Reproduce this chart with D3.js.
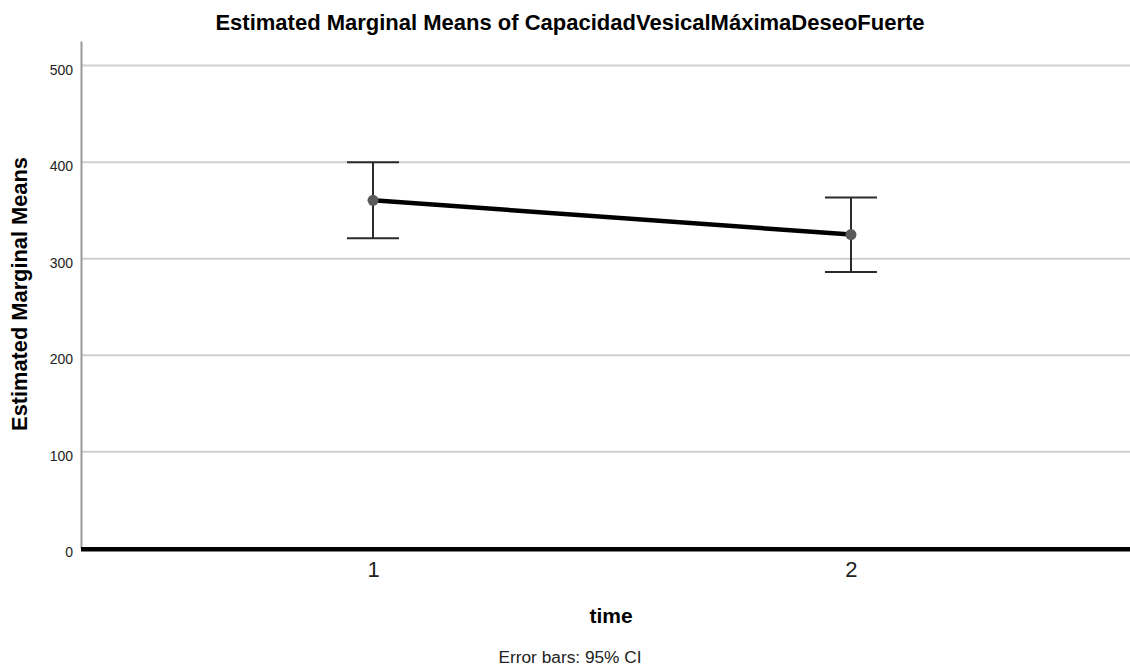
<!DOCTYPE html>
<html>
<head>
<meta charset="utf-8">
<script src="https://cdn.jsdelivr.net/npm/d3@7"></script>
<style>
  html, body { margin: 0; padding: 0; background: #fff; }
  svg { display: block; font-family: "Liberation Sans", Arial, sans-serif; }
</style>
</head>
<body>
<svg id="chart" width="1130" height="666"></svg>
<script>
// Estimated marginal means with 95% confidence intervals per time point
const timePoints = ["1", "2"];
const means = [360.5, 325.0];
const ciLower = [321.2, 286.3];
const ciUpper = [400.0, 363.3];
const yTicks = [0, 100, 200, 300, 400, 500];

const svg = d3.select("#chart");
const W = 1130, H = 666;
const plotLeft = 81, plotTop = 41, plotBottom = 548.3;

const y = d3.scaleLinear().domain([0, 525.5]).range([plotBottom, plotTop]);
const x = d3.scalePoint().domain(timePoints).range([plotLeft, 1143]).padding(0.611);

// Horizontal gridlines
svg.append("g")
  .selectAll("line")
  .data(yTicks.filter(d => d > 0))
  .join("line")
  .attr("x1", plotLeft).attr("x2", W)
  .attr("y1", d => y(d)).attr("y2", d => y(d))
  .attr("stroke", "#cfcfcf")
  .attr("stroke-width", 2);

// Y axis
const yAxis = svg.append("g")
  .attr("transform", `translate(${plotLeft},0)`)
  .call(d3.axisLeft(y).tickValues(yTicks).tickSize(0).tickPadding(8));
yAxis.select(".domain").attr("stroke", "#9a9a9a").attr("stroke-width", 2);
yAxis.selectAll(".tick text")
  .attr("font-size", 14)
  .attr("fill", "#222")
  .attr("font-family", "Liberation Sans, Arial, sans-serif")
  .attr("dy", "0.6em")
  .attr("x", -8);

// Baseline at zero
svg.append("line")
  .attr("x1", plotLeft).attr("x2", W)
  .attr("y1", y(0) + 1).attr("y2", y(0) + 1)
  .attr("stroke", "#000")
  .attr("stroke-width", 4.5);

// X axis labels
const xAxis = svg.append("g")
  .attr("transform", `translate(0,${y(0)})`)
  .call(d3.axisBottom(x).tickSize(0).tickPadding(13));
xAxis.select(".domain").remove();
xAxis.selectAll(".tick text")
  .attr("font-size", 22)
  .attr("fill", "#222")
  .attr("font-family", "Liberation Sans, Arial, sans-serif");

// Error bars
const cap = 26;
const eb = svg.append("g").attr("stroke", "#2b2b2b").attr("stroke-width", 2);
timePoints.forEach((t, i) => {
  const cx = x(t);
  eb.append("line").attr("x1", cx).attr("x2", cx).attr("y1", y(ciLower[i])).attr("y2", y(ciUpper[i]));
  eb.append("line").attr("x1", cx - cap).attr("x2", cx + cap).attr("y1", y(ciUpper[i])).attr("y2", y(ciUpper[i]));
  eb.append("line").attr("x1", cx - cap).attr("x2", cx + cap).attr("y1", y(ciLower[i])).attr("y2", y(ciLower[i]));
});

// Mean line
const pts = timePoints.map((t, i) => ({ t, v: means[i] }));
svg.append("path")
  .datum(pts)
  .attr("fill", "none")
  .attr("stroke", "#000")
  .attr("stroke-width", 4.5)
  .attr("d", d3.line().x(d => x(d.t)).y(d => y(d.v)));

svg.append("g")
  .selectAll("circle")
  .data(pts)
  .join("circle")
  .attr("cx", d => x(d.t))
  .attr("cy", d => y(d.v))
  .attr("r", 5.5)
  .attr("fill", "#5a5a5a");

// Titles
svg.append("text")
  .attr("x", 570).attr("y", 30)
  .attr("text-anchor", "middle")
  .attr("font-size", 22)
  .attr("font-weight", "bold")
  .attr("fill", "#000")
  .text("Estimated Marginal Means of CapacidadVesicalMáximaDeseoFuerte");

svg.append("text")
  .attr("transform", `translate(27,294) rotate(-90)`)
  .attr("text-anchor", "middle")
  .attr("font-size", 21.8)
  .attr("font-weight", "bold")
  .attr("fill", "#000")
  .text("Estimated Marginal Means");

svg.append("text")
  .attr("x", 611).attr("y", 622.5)
  .attr("text-anchor", "middle")
  .attr("font-size", 21)
  .attr("font-weight", "bold")
  .attr("fill", "#000")
  .text("time");

svg.append("text")
  .attr("x", 570).attr("y", 663)
  .attr("text-anchor", "middle")
  .attr("font-size", 17.3)
  .attr("fill", "#222")
  .text("Error bars: 95% CI");
</script>
</body>
</html>
